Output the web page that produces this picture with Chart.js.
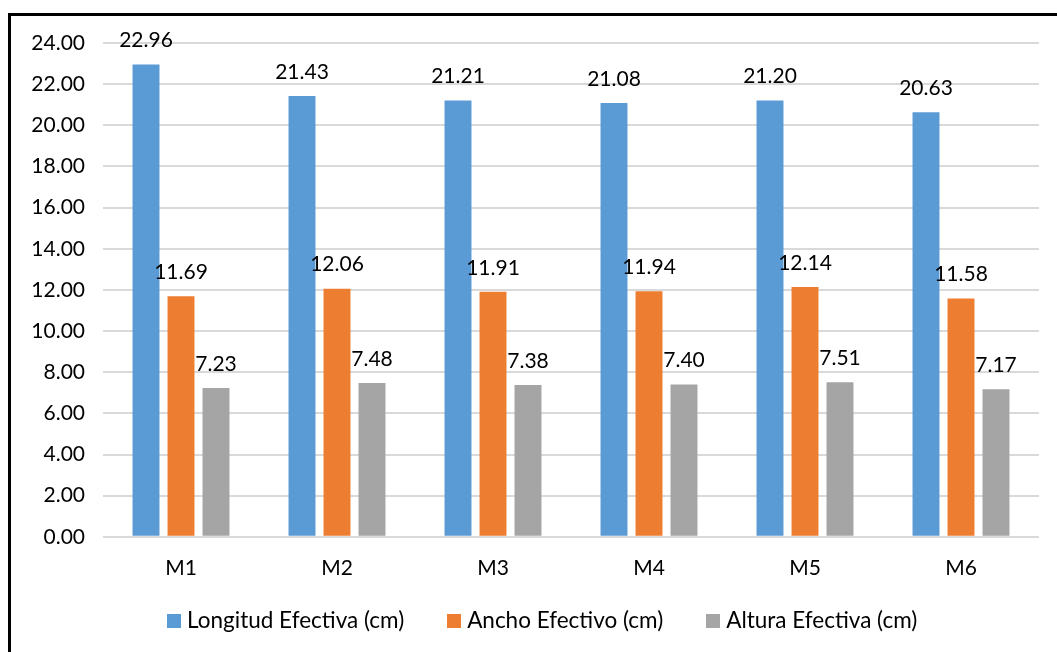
<!DOCTYPE html>
<html>
<head>
<meta charset="utf-8">
<script src="https://cdn.jsdelivr.net/npm/chart.js@4.4.1/dist/chart.umd.min.js"></script>
<style>
  html, body { margin: 0; padding: 0; background: #ffffff; }
  #wrap { position: relative; width: 1057px; height: 652px; }
</style>
</head>
<body>
<div id="wrap"><canvas id="c" width="1057" height="652"></canvas></div>
<script>
// Muestras
const categories = ['M1', 'M2', 'M3', 'M4', 'M5', 'M6'];
const longitud = [22.96, 21.43, 21.21, 21.08, 21.20, 20.63];
const ancho = [11.69, 12.06, 11.91, 11.94, 12.14, 11.58];
const altura = [7.23, 7.48, 7.38, 7.40, 7.51, 7.17];
const seriesNames = ['Longitud Efectiva (cm)', 'Ancho Efectivo (cm)', 'Altura Efectiva (cm)'];
const seriesColors = ['#5B9BD5', '#ED7D31', '#A5A5A5'];
const yTicks = [0, 2, 4, 6, 8, 10, 12, 14, 16, 18, 20, 22, 24];

const FONT = 'Lato, "Open Sans", sans-serif';
const FONT_SIZE = 21;
const LEGEND_FONT_SIZE = 22.5;

// Outer frame around the chart
const framePlugin = {
  id: 'frame',
  beforeDraw(chart) {
    const ctx = chart.ctx;
    ctx.save();
    ctx.fillStyle = '#ffffff';
    ctx.fillRect(0, 0, chart.width, chart.height);
    ctx.strokeStyle = '#000000';
    ctx.lineWidth = 3;
    ctx.strokeRect(9.5, 14.5, 1200, 800);
    ctx.restore();
  }
};

// Value labels above each bar
const valueLabels = {
  id: 'valueLabels',
  afterDatasetsDraw(chart) {
    const ctx = chart.ctx;
    ctx.save();
    ctx.font = FONT_SIZE + 'px ' + FONT;
    ctx.fillStyle = '#000000';
    ctx.textAlign = 'center';
    ctx.textBaseline = 'middle';
    chart.data.datasets.forEach((ds, i) => {
      chart.getDatasetMeta(i).data.forEach((bar, j) => {
        ctx.fillText(ds.data[j].toFixed(2), bar.x, bar.y - 24);
      });
    });
    ctx.restore();
  }
};

// Legend row under the axis: square swatch, tight text, wide gaps between entries
const legendRow = {
  id: 'legendRow',
  afterDraw(chart) {
    const ctx = chart.ctx;
    const box = 14, textGap = 6, itemGap = 43, cy = 621, centre = 542.5;
    ctx.save();
    ctx.font = LEGEND_FONT_SIZE + 'px ' + FONT;
    ctx.textBaseline = 'middle';
    ctx.textAlign = 'left';
    const items = chart.data.datasets.map(ds => ({
      label: ds.label, color: ds.backgroundColor,
      w: box + textGap + ctx.measureText(ds.label).width
    }));
    const total = items.reduce((s, it) => s + it.w, 0) + itemGap * (items.length - 1);
    let x = Math.round(centre - total / 2);
    items.forEach(it => {
      ctx.fillStyle = it.color;
      ctx.fillRect(Math.round(x), cy - box / 2, box, box);
      ctx.fillStyle = '#000000';
      ctx.fillText(it.label, x + box + textGap, cy);
      x += it.w + itemGap;
    });
    ctx.restore();
  }
};

new Chart(document.getElementById('c'), {
  type: 'bar',
  data: {
    labels: categories,
    datasets: seriesNames.map((name, i) => ({
      label: name,
      data: [longitud, ancho, altura][i],
      backgroundColor: seriesColors[i]
    }))
  },
  options: {
    responsive: false,
    animation: false,
    devicePixelRatio: 1,
    categoryPercentage: 0.673,
    barPercentage: 0.77,
    layout: { padding: { top: 43, right: 18, bottom: 60, left: 0 } },
    plugins: {
      tooltip: { enabled: false },
      legend: { display: false }
    },
    scales: {
      x: {
        grid: { display: false },
        border: { display: false },
        ticks: { font: { family: FONT, size: FONT_SIZE }, color: '#000000', padding: 11 }
      },
      y: {
        min: 0,
        max: 24,
        afterBuildTicks(scale) { scale.ticks = yTicks.map(v => ({ value: v })); },
        afterFit(scale) { scale.width = 103; },
        grid: { color: '#d9d9d9', lineWidth: 2, drawTicks: false },
        border: { display: false },
        ticks: {
          font: { family: FONT, size: FONT_SIZE },
          color: '#000000',
          padding: 18,
          callback: v => Number(v).toFixed(2)
        }
      }
    }
  },
  plugins: [framePlugin, valueLabels, legendRow]
});
</script>
</body>
</html>
